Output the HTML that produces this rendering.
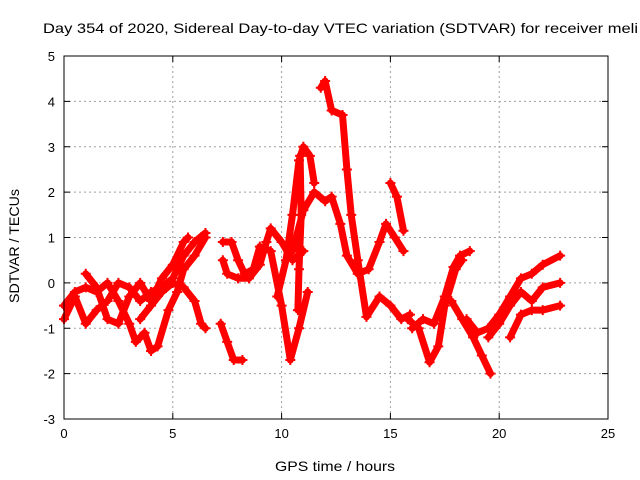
<!DOCTYPE html>
<html><head><meta charset="utf-8"><style>
body{margin:0;background:#fff;}
svg{display:block;font-family:"Liberation Sans",sans-serif;}
</style></head><body>
<svg id="chart" width="640" height="480">
<text x="43" y="33" font-size="14" textLength="595" lengthAdjust="spacingAndGlyphs">Day 354 of 2020, Sidereal Day-to-day VTEC variation (SDTVAR) for receiver meli</text>
<text x="275" y="471" font-size="14" textLength="120" lengthAdjust="spacingAndGlyphs">GPS time / hours</text>
<text x="-57" y="0" font-size="14" textLength="114" lengthAdjust="spacingAndGlyphs" transform="translate(19,246) rotate(-90)">SDTVAR / TECUs</text>
<g id="grid"></g>
<g id="ticks"></g>
<g id="marks"></g>
<rect x="64" y="56" width="544" height="363" fill="none" stroke="#000" stroke-width="1"/>
</svg>
<script>
const xTicks=[0,5,10,15,20,25];
const yTicks=[-3,-2,-1,0,1,2,3,4,5];
const track1=[[0,-0.5],[0.5,-0.2],[1,-0.1],[1.5,-0.2],[2,0],[2.5,-0.4],[3,-0.9],[3.3,-1.3],[3.7,-1.1],[4,-1.5],[4.3,-1.4],[4.8,-0.6],[5.2,-0.2],[5.5,0.3],[6,0.6],[6.5,1.0]];
const track2=[[0,-0.8],[0.5,-0.3],[1,-0.9],[1.5,-0.6],[2,-0.4],[2.5,0],[3,-0.1],[3.5,-0.4],[4,-0.2],[4.5,-0.1],[5,0.1],[5.5,0.6],[6,0.9],[6.5,1.1]];
const track3=[[1,0.2],[1.5,-0.1],[2,-0.8],[2.5,-0.9],[3,-0.3],[3.5,0],[4,-0.4],[4.5,0.1],[5,0.4],[5.5,0.9],[5.7,1.0]];
const track4=[[3.5,-0.8],[4,-0.5],[4.5,-0.2],[5,0],[5.5,-0.1],[6,-0.4],[6.3,-0.9],[6.5,-1.0]];
const track5=[[7.2,-0.9],[7.5,-1.3],[7.8,-1.7],[8.2,-1.7]];
const track6=[[7.3,0.5],[7.5,0.2],[8,0.1],[8.5,0.1],[9,0.4],[9.3,0.9],[9.5,1.2],[10,0.9],[10.5,0.5],[11,0.7]];
const track7=[[7.3,0.9],[7.7,0.9],[8,0.5],[8.3,0.2],[8.7,0.3],[9,0.8],[9.5,0.7],[10,-0.5],[10.4,-1.7],[10.8,-1.0],[11.2,-0.2]];
const track8=[[9.8,-0.3],[10.2,0.5],[10.5,1.5],[10.8,2.7],[11,3.0],[11.3,2.8],[11.5,2.2]];
const track9=[[10.5,0.7],[11,1.6],[11.5,2.0],[12,1.8],[12.3,1.9],[12.7,1.3],[13,0.6],[13.5,0.2],[14,0.3],[14.5,0.9],[14.8,1.3],[15.2,1.0],[15.6,0.7]];
const track10=[[11.8,4.3],[12,4.45],[12.3,3.8],[12.8,3.7],[13,2.5],[13.2,1.5],[13.5,0.5],[13.9,-0.75],[14.5,-0.3],[15,-0.5],[15.5,-0.8],[15.9,-0.7]];
const track11=[[15,2.2],[15.3,1.9],[15.6,1.15]];
const track12=[[15.8,-0.8],[16.3,-1.0],[16.8,-1.75],[17.2,-1.4],[17.5,-0.5],[18,0.3],[18.3,0.5]];
const track13=[[16,-1.0],[16.5,-0.8],[17,-0.9],[17.5,-0.3],[17.9,0.35],[18.2,0.6],[18.65,0.7]];
const track14=[[17.8,-0.4],[18.3,-0.8],[18.8,-1.2],[19.2,-1.6],[19.6,-2.0]];
const track15=[[18.5,-0.8],[19,-1.1],[19.5,-1.0],[20,-0.7],[20.5,-0.3],[21,0.1],[21.5,0.2],[22,0.4],[22.8,0.6]];
const track16=[[19.5,-1.2],[20,-0.9],[20.5,-0.5],[21,-0.2],[21.5,-0.4],[22,-0.1],[22.8,0]];
const track17=[[20.5,-1.2],[21,-0.7],[21.5,-0.6],[22,-0.6],[22.8,-0.5]];
const track18=[[10.85,2.8],[10.9,1.5],[10.8,0.3],[10.75,-0.6]];
const tracks=[track1,track2,track3,track4,track5,track6,track7,track8,track9,track10,track11,track12,track13,track14,track15,track16,track17,track18];

const NS='http://www.w3.org/2000/svg';
const X0=64,X1=608,Y0=419,Y1=56;
function xs(t){return X0+(t-0)/(25-0)*(X1-X0);}
function ys(v){return Y0-(v+3)/(5+3)*(Y0-Y1);}
function mk(tag,attrs,parent){const e=document.createElementNS(NS,tag);for(const k in attrs)e.setAttribute(k,attrs[k]);parent.appendChild(e);return e;}
const grid=document.getElementById('grid'),ticks=document.getElementById('ticks'),marks=document.getElementById('marks');
xTicks.forEach(t=>{
  const x=xs(t);
  if(t>0&&t<25){const g=mk('line',{x1:x,y1:Y1,x2:x,y2:Y0,stroke:'#a0a0a0','stroke-dasharray':'2,3'},grid);
  
  }
  mk('line',{x1:x,y1:Y0,x2:x,y2:Y0-6,stroke:'#000'},ticks);
  mk('line',{x1:x,y1:Y1,x2:x,y2:Y1+6,stroke:'#000'},ticks);
  const l=mk('text',{x:x,y:Y0+19,'font-size':13,'text-anchor':'middle'},ticks);
  l.textContent=t;
  
  
});
yTicks.forEach(v=>{
  const y=ys(v);
  if(v>-3&&v<5){const g=mk('line',{x1:X0,y1:y,x2:X1,y2:y,stroke:'#a0a0a0','stroke-dasharray':'2,3'},grid);
  
  }
  mk('line',{x1:X0,y1:y,x2:X0+6,y2:y,stroke:'#000'},ticks);
  mk('line',{x1:X1,y1:y,x2:X1-6,y2:y,stroke:'#000'},ticks);
  const l=mk('text',{x:X0-9,y:y+5,'font-size':13,'text-anchor':'end'},ticks);
  l.textContent=v;
  
  
});
tracks.forEach((tr,i)=>{
  const pts=tr.map(p=>xs(p[0]).toFixed(1)+','+ys(p[1]).toFixed(1)).join(' ');
  const pl=mk('polyline',{points:pts,fill:'none',stroke:'#ff0000','stroke-width':7,'stroke-linejoin':'round','stroke-linecap':'round'},marks);
  
  
  tr.forEach(p=>{
    const x=xs(p[0]),y=ys(p[1]);
    const m=mk('path',{d:`M${x-5},${y}H${x+5}M${x},${y-5}V${y+5}`,stroke:'#ff0000','stroke-width':2},marks);
    
    
  });
});
</script>
</body></html>
